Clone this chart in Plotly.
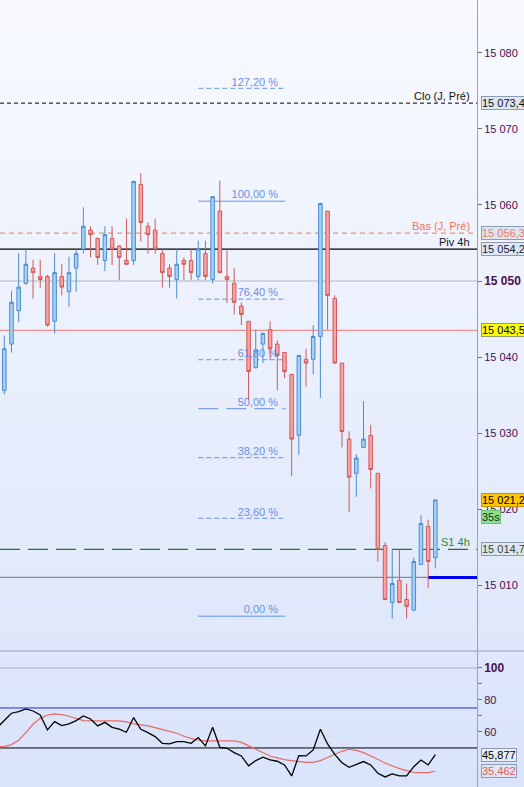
import plotly.graph_objects as go

# ---------------- data ----------------
bar_index = list(range(61))
open_ = [15035.6, 15041.7, 15046.1, 15049.7, 15051.7, 15050.6, 15050.6, 15044.7, 15050.6, 15048.6,
         15051.7, 15054.2, 15056.7, 15055.6, 15052.7, 15055.6, 15054.6, 15052.7, 15052.7, 15062.7,
         15057.2, 15056.7, 15053.6, 15051.7, 15050.2, 15052.7, 15052.7, 15050.6, 15053.6, 15050.2,
         15059.2, 15050.6, 15049.7, 15046.7, 15044.7, 15038.6, 15041.7, 15043.6, 15041.7, 15040.6,
         15037.7, 15029.7, 15039.7, 15039.7, 15042.7, 15059.2, 15047.7, 15039.2, 15029.2, 15024.7,
         15028.1, 15029.7, 15024.7, 15015.2, 15007.7, 15010.6, 15008.1, 15006.7, 15012.7, 15017.7,
         15013.6]
high = [15042.8, 15048.7, 15053.7, 15054.2, 15052.8, 15052.8, 15050.8, 15053.7, 15052.2, 15053.2,
        15054.2, 15059.7, 15057.2, 15055.7, 15057.2, 15057.2, 15054.7, 15058.2, 15063.2, 15064.2,
        15057.7, 15058.2, 15054.2, 15052.2, 15054.2, 15053.1, 15054.2, 15055.3, 15055.3, 15061.1,
        15063.2, 15054.2, 15051.7, 15047.2, 15044.7, 15043.6, 15043.2, 15044.7, 15042.2, 15040.6,
        15037.8, 15040.3, 15041.1, 15044.2, 15060.3, 15059.2, 15048.1, 15039.2, 15030.2, 15027.2,
        15034.2, 15031.1, 15024.7, 15015.6, 15014.7, 15014.7, 15010.2, 15013.6, 15019.2, 15018.6,
        15021.2]
low = [15035.1, 15040.6, 15044.6, 15049.5, 15047.7, 15049.1, 15044.0, 15043.1, 15048.1, 15046.6,
       15048.6, 15053.6, 15053.1, 15052.1, 15051.3, 15052.1, 15050.1, 15052.1, 15052.1, 15055.2,
       15053.6, 15053.6, 15049.1, 15049.1, 15047.7, 15050.1, 15050.1, 15050.1, 15050.1, 15049.7,
       15051.0, 15047.1, 15045.6, 15044.2, 15034.3, 15038.5, 15039.2, 15039.6, 15035.6, 15037.2,
       15024.3, 15027.1, 15036.1, 15037.7, 15034.6, 15043.6, 15039.1, 15028.1, 15019.6, 15021.6,
       15028.0, 15022.7, 15013.1, 15008.0, 15005.6, 15007.7, 15005.6, 15006.6, 15012.7, 15009.6,
       15012.2]
close = [15041.1, 15047.2, 15049.2, 15052.2, 15051.1, 15050.2, 15044.2, 15051.1, 15049.2, 15051.1,
         15053.6, 15057.2, 15056.1, 15053.1, 15056.1, 15054.2, 15053.1, 15052.2, 15063.1, 15057.7,
         15056.1, 15054.2, 15051.1, 15050.6, 15052.2, 15052.2, 15051.1, 15054.2, 15050.6, 15061.1,
         15051.1, 15050.2, 15047.2, 15045.6, 15038.1, 15040.9, 15043.1, 15041.1, 15040.2, 15038.1,
         15029.2, 15040.2, 15039.2, 15042.7, 15060.2, 15048.1, 15039.2, 15030.2, 15024.2, 15026.7,
         15029.2, 15025.2, 15014.7, 15008.1, 15010.2, 15007.7, 15007.2, 15013.1, 15018.1, 15013.1,
         15021.2]

rsi_index = list(range(-1, 61))
rsi_values = [62.7,
              66.9, 71.7, 72.7, 74.4, 73.1, 70.6, 61.3, 66.5, 64.0, 65.0,
              67.1, 70.0, 68.1, 63.8, 66.0, 62.9, 61.7, 59.8, 69.0, 61.7,
              59.6, 57.1, 52.9, 52.5, 54.0, 54.0, 52.9, 56.5, 51.3, 62.9,
              50.4, 49.8, 47.1, 45.0, 38.8, 42.1, 44.2, 42.5, 41.7, 39.4,
              32.5, 45.2, 45.0, 48.8, 61.7, 52.5, 46.0, 40.8, 37.9, 39.8,
              41.5, 39.4, 34.2, 31.9, 33.8, 32.5, 32.5, 38.3, 42.5, 39.4,
              45.877]
rsi_ma_values = [50.8,
                 50.8, 52.1, 54.8, 59.6, 64.8, 68.5, 70.6, 71.3, 70.8, 69.8,
                 68.3, 67.1, 66.9, 66.9, 66.9, 66.9, 66.9, 66.3, 65.0, 64.4,
                 63.8, 62.7, 61.7, 60.4, 59.2, 57.3, 56.0, 54.8, 54.4, 54.4,
                 54.4, 54.4, 54.4, 53.5, 51.3, 49.0, 47.3, 45.0, 43.8, 42.7,
                 42.1, 41.5, 41.0, 41.0, 42.1, 44.0, 46.0, 47.9, 49.2, 48.5,
                 47.1, 45.2, 42.9, 40.6, 38.8, 37.1, 35.8, 34.8, 34.6, 34.6,
                 35.462]

price_tick_values = [15010, 15020, 15030, 15040, 15050, 15060, 15070, 15080]
bold_price_tick = 15050
rsi_tick_values = [60, 70, 80, 90, 100]
rsi_labelled_ticks = [60, 80, 100]

fib_percent = [127.2, 100.0, 76.4, 61.8, 50.0, 38.2, 23.6, 0.0]
fib_high = 15060.5
fib_low = 15005.9

level_clo = 15073.4
level_bas = 15056.3
level_piv = 15054.2
level_mark = 15043.5
level_round = 15050
level_s1 = 15014.7
level_grey = 15011.0
last_price = 15021.2
rsi_last = 45.877
rsi_ma_last = 35.462
rsi_upper = 75
rsi_mid = 50
rsi_top = 100
countdown = "35s"

# ---------------- layout constants ----------------
W, H = 524, 787
MAIN_BOTTOM = 1 - 651 / 787
X_RANGE = [-0.6, 65.8]
Y_RANGE = [15001.32, 15086.97]
RSI_RANGE = [25.6, 110.6]
FIB_X0, FIB_X1, FIB_LABEL_X = 27.0, 39.1, 38.1
FONT = "Liberation Sans, Arial, sans-serif"
TICK_COLOR = "#4b0f4b"


def fr(v, d):
    s = f"{v:,.{d}f}"
    return s.replace(",", " ").replace(".", ",")


fig = go.Figure()

# fib labels (drawn under candles)
fib_prices = [fib_low + p / 100.0 * (fib_high - fib_low) for p in fib_percent]
fib_texts = [f"{p:.2f}".replace(".", ",") + " %" for p in fib_percent]
fig.add_trace(go.Scatter(
    x=[FIB_LABEL_X] * len(fib_prices), y=fib_prices, text=fib_texts, mode="text",
    textposition="top left", textfont=dict(family=FONT, size=11, color="#6b8fe6"),
    hoverinfo="skip", xaxis="x", yaxis="y", cliponaxis=False))

fig.add_trace(go.Candlestick(
    x=bar_index, open=open_, high=high, low=low, close=close,
    increasing=dict(line=dict(color="#4d8ccc", width=1), fillcolor="#a3d1f7"),
    decreasing=dict(line=dict(color="#cf5a5a", width=1), fillcolor="#f7a3a3"),
    whiskerwidth=0, hoverinfo="skip", xaxis="x", yaxis="y"))

fig.add_trace(go.Scatter(x=rsi_index, y=rsi_ma_values, mode="lines",
                         line=dict(color="#e86a6a", width=1.2),
                         hoverinfo="skip", xaxis="x2", yaxis="y2"))
fig.add_trace(go.Scatter(x=rsi_index, y=rsi_values, mode="lines",
                         line=dict(color="#000000", width=1.3),
                         hoverinfo="skip", xaxis="x2", yaxis="y2"))

shapes = []
# background gradient
N = 50
top_c = (248, 250, 255)
bot_c = (217, 227, 250)
for k in range(N):
    f = (k + 0.5) / N
    c = tuple(round(top_c[i] + (bot_c[i] - top_c[i]) * f) for i in range(3))
    shapes.append(dict(type="rect", xref="paper", yref="paper", x0=0, x1=1.12,
                       y0=1 - (k + 1) / N, y1=1 - k / N + 0.001,
                       fillcolor=f"rgb{c}", line=dict(width=0), layer="below"))


def hline(y, color, width=1, dash="solid", yref="y", x0=0, x1=1, xref="paper"):
    shapes.append(dict(type="line", xref=xref, yref=yref, x0=x0, x1=x1, y0=y, y1=y,
                       line=dict(color=color, width=width, dash=dash), layer="below"))


hline(level_round, "#c6cad8", 1.5)
hline(level_mark, "#f39090", 1.2)
hline(level_clo, "#000000", 1, "4px,3px")
hline(level_bas, "#ee7755", 1, "5px,4px")
hline(level_piv, "#000000", 1.2)
hline(level_s1, "#1d7a1d", 1.2, "20px,8px")
hline(level_grey, "#8a8a8a", 1.2)
hline(level_grey, "#0000ee", 3, xref="x", x0=59, x1=X_RANGE[1])

# fib lines
fib_dash = ["5px,3px", "solid", "5px,3px", "5px,3px", "20px,8px", "5px,3px", "5px,3px", "solid"]
for pr, ds in zip(fib_prices, fib_dash):
    hline(pr, "#6792e8", 1, ds, xref="x", x0=FIB_X0, x1=FIB_X1)

# RSI panel lines
hline(rsi_top, "#aab2c4", 1, yref="y2")
hline(rsi_upper, "#2626e0", 1, yref="y2")
hline(rsi_mid, "#000000", 1, yref="y2")
shapes.append(dict(type="line", xref="paper", yref="paper", x0=0, x1=1.12,
                   y0=MAIN_BOTTOM, y1=MAIN_BOTTOM, line=dict(color="#98a2b4", width=1.2)))

annotations = []


def level_label(text, y, color, yref="y"):
    annotations.append(dict(xref="paper", yref=yref, x=471 / 477, y=y, text=text,
                            xanchor="right", yanchor="bottom", showarrow=False,
                            font=dict(family=FONT, size=11, color=color), borderpad=0))


level_label("Clo (J, Pré)", level_clo, "#111111")
level_label("Bas (J, Pré)", level_bas, "#ee7755")
level_label("Piv 4h", level_piv, "#111133")
level_label("S1 4h", level_s1, "#2c8a2c")


def box(text, y, bg, fg, border="#8f9bb0", yref="y", yshift=0):
    annotations.append(dict(xref="paper", yref=yref, x=1, xshift=4, y=y, yshift=yshift,
                            text=text, xanchor="left", yanchor="middle", showarrow=False,
                            bgcolor=bg, bordercolor=border, borderwidth=1, borderpad=0,
                            font=dict(family=FONT, size=11, color=fg)))


box(fr(level_clo, 1), level_clo, "#dfe5f3", "#111111")
box(fr(level_bas, 1), level_bas, "#dde4f2", "#ef7a5e")
box(fr(level_piv, 1), level_piv, "#e0e6f3", "#1a1a40")
box(fr(level_mark, 1), level_mark, "#ffff00", "#000000", border="#9a9a70")
box(fr(last_price, 1), last_price, "#ffc800", "#000000", border="#c09020")
box(countdown, last_price, "#8fdf8f", "#143014", border="#70c070", yshift=-17)
box(fr(level_s1, 1), level_s1, "#dfe5ef", "#2f4a3f")
box(fr(rsi_last, 3), rsi_last, "#e8ecf5", "#000000", yref="y2")
box(fr(rsi_ma_last, 3), rsi_ma_last, "#e0e6f3", "#e05a5a", yref="y2")

price_tick_text = [
    (f"<b><span style='font-size:12px'>{fr(v, 0)}</span></b>" if v == bold_price_tick else fr(v, 0))
    for v in price_tick_values]
rsi_tick_text = [
    ("<b><span style='font-size:12px'>100</span></b>" if v == 100 else (str(v) if v in rsi_labelled_ticks else ""))
    for v in rsi_tick_values]

fig.update_layout(
    width=W, height=H, margin=dict(l=0, r=47, t=0, b=0),
    paper_bgcolor="#e9eefb", plot_bgcolor="rgba(0,0,0,0)", showlegend=False,
    xaxis=dict(domain=[0, 1], range=X_RANGE, visible=False, anchor="y",
               rangeslider=dict(visible=False), fixedrange=True),
    xaxis2=dict(domain=[0, 1], range=X_RANGE, visible=False, anchor="y2", matches="x"),
    yaxis=dict(domain=[MAIN_BOTTOM, 1], range=Y_RANGE, side="right", anchor="x",
               showgrid=False, zeroline=False, showline=True, linecolor="#98a2b4", linewidth=1,
               ticks="outside", ticklen=4, tickcolor="#6a7284",
               tickvals=price_tick_values, ticktext=price_tick_text,
               tickfont=dict(family=FONT, size=11, color=TICK_COLOR)),
    yaxis2=dict(domain=[0, MAIN_BOTTOM], range=RSI_RANGE, side="right", anchor="x2",
                showgrid=False, zeroline=False, showline=True, linecolor="#98a2b4", linewidth=1,
                ticks="outside", ticklen=4, tickcolor="#6a7284",
                tickvals=rsi_tick_values, ticktext=rsi_tick_text,
                tickfont=dict(family=FONT, size=11, color=TICK_COLOR)),
    shapes=shapes, annotations=annotations,
)

fig.write_html("out.html", config={"displayModeBar": False},
               post_script="document.body.style.margin='0px';document.body.style.overflow='hidden';")
